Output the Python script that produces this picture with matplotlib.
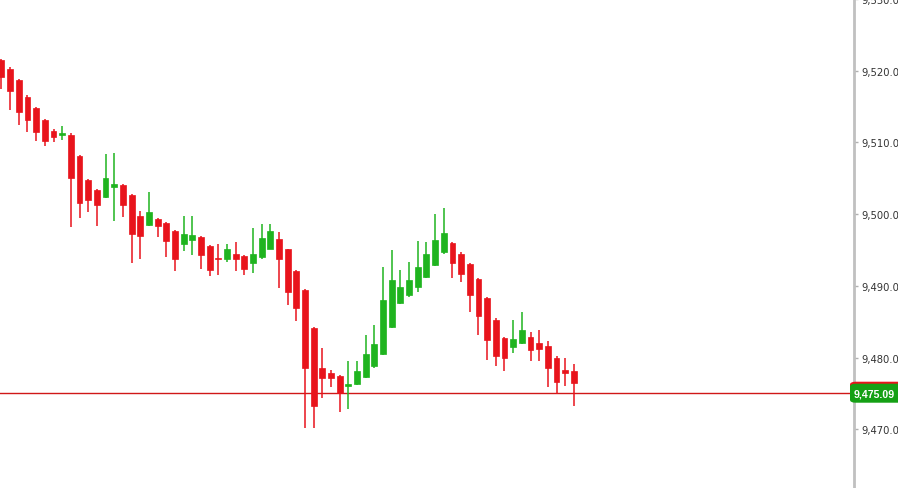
import numpy as np
import matplotlib
matplotlib.use("Agg")
import matplotlib.pyplot as plt
from matplotlib.patches import FancyBboxPatch
from matplotlib.ticker import FuncFormatter, MultipleLocator

# OHLC (oldest -> newest)
opens = [9521.5, 9520.2, 9518.7, 9516.4, 9514.8, 9513.1, 9511.6, 9511.0, 9511.1, 9508.1,
         9504.7, 9503.3, 9502.4, 9503.8, 9504.0, 9502.6, 9499.8, 9498.5, 9499.3, 9498.7,
         9497.6, 9495.8, 9496.4, 9496.8, 9495.5, 9493.8, 9493.7, 9494.4, 9494.1, 9493.2,
         9494.0, 9495.2, 9496.5, 9495.1, 9492.0, 9489.4, 9484.1, 9478.6, 9477.8, 9477.4,
         9476.0, 9476.3, 9477.3, 9478.8, 9480.5, 9484.2, 9487.6, 9488.7, 9489.8, 9491.2,
         9492.9, 9494.7, 9495.9, 9494.5, 9493.0, 9490.9, 9488.3, 9485.3, 9482.7, 9481.4,
         9482.0, 9482.8, 9482.0, 9481.6, 9480.0, 9478.2, 9478.1]
highs = [9521.7, 9520.5, 9518.8, 9516.6, 9514.9, 9513.2, 9511.8, 9512.3, 9511.3, 9508.2,
         9504.9, 9503.5, 9508.4, 9508.5, 9504.2, 9502.8, 9500.5, 9503.1, 9499.4, 9498.9,
         9497.8, 9499.8, 9499.8, 9496.9, 9495.7, 9495.8, 9495.8, 9496.1, 9494.3, 9498.0,
         9498.6, 9498.6, 9497.5, 9495.2, 9492.2, 9489.5, 9484.2, 9481.3, 9478.2, 9477.5,
         9479.5, 9479.5, 9483.1, 9484.5, 9492.6, 9495.0, 9492.2, 9493.3, 9496.2, 9496.1,
         9500.0, 9500.8, 9496.1, 9494.7, 9493.2, 9491.1, 9488.4, 9485.5, 9482.8, 9485.3,
         9486.3, 9483.5, 9483.8, 9482.3, 9480.2, 9480.0, 9479.1]
lows = [9517.4, 9514.5, 9512.4, 9511.4, 9510.2, 9509.5, 9510.0, 9510.4, 9498.2, 9499.4,
        9500.3, 9498.3, 9502.2, 9499.0, 9499.6, 9493.2, 9493.8, 9498.3, 9496.8, 9494.0,
        9492.0, 9494.8, 9494.3, 9492.3, 9491.3, 9491.5, 9493.3, 9492.0, 9491.5, 9491.8,
        9493.8, 9495.1, 9489.7, 9487.3, 9485.1, 9470.1, 9470.1, 9474.3, 9475.9, 9472.4,
        9472.8, 9476.1, 9477.1, 9478.6, 9480.3, 9484.1, 9487.4, 9488.5, 9489.2, 9491.1,
        9492.7, 9494.5, 9491.1, 9490.5, 9486.3, 9483.2, 9479.6, 9478.8, 9478.1, 9480.6,
        9481.9, 9479.5, 9479.5, 9475.9, 9474.9, 9476.0, 9473.2]
closes = [9519.1, 9517.1, 9514.2, 9513.1, 9511.4, 9510.2, 9510.7, 9511.3, 9505.1, 9501.5,
          9501.9, 9501.2, 9505.1, 9504.2, 9501.2, 9497.2, 9496.9, 9500.3, 9498.3, 9496.2,
          9493.8, 9497.2, 9497.1, 9494.3, 9492.2, 9493.7, 9495.1, 9493.8, 9492.3, 9494.5,
          9496.6, 9497.6, 9493.8, 9489.2, 9486.9, 9478.6, 9473.2, 9477.1, 9477.1, 9475.0,
          9476.3, 9478.1, 9480.5, 9481.9, 9488.0, 9490.8, 9489.9, 9490.8, 9492.6, 9494.4,
          9496.4, 9497.3, 9493.2, 9491.6, 9488.7, 9485.8, 9482.4, 9480.2, 9480.0, 9482.6,
          9483.8, 9481.0, 9481.2, 9478.5, 9476.6, 9477.8, 9476.4]
last_price = 9475.09

UP = "#1fb41f"
DOWN = "#e8141c"

o = np.array(opens)
h = np.array(highs)
l = np.array(lows)
c = np.array(closes)
x = np.arange(len(o))
colors = np.where(c >= o, UP, DOWN)

W, H = 898, 489
fig = plt.figure(figsize=(W / 100, H / 100), dpi=100)
ax = fig.add_axes([0, 0, 854 / W, 1])

# wicks and bodies
ax.vlines(x, l, h, colors=colors, linewidth=1.1, zorder=2)
body_bottom = np.minimum(o, c)
body_height = np.maximum(np.abs(c - o), 0.15)
ax.bar(x, body_height, bottom=body_bottom, width=0.68, color=colors,
       edgecolor=colors, linewidth=0.5, zorder=3)

# last price line
ax.axhline(last_price, color="#d01818", linewidth=1, zorder=1)

ax.set_xlim(-0.17, 98.3)
ax.set_ylim(9461.8, 9530.0)

for side in ["top", "left", "bottom"]:
    ax.spines[side].set_visible(False)
ax.spines["right"].set_color("#c0c0c0")
ax.spines["right"].set_linewidth(2)
ax.set_xticks([])
ax.yaxis.tick_right()
ax.yaxis.set_major_locator(MultipleLocator(10))
ax.yaxis.set_major_formatter(FuncFormatter(lambda v, p: f"{v:,.2f}"))
ax.tick_params(axis="y", direction="out", length=3, width=1, color="#b0b0b0",
               labelsize=7.2, labelcolor="#333333", pad=2)

# price tag on the axis (red edge peeking above the green box)
y_pix = ax.transData.transform((0, last_price))[1]
x0 = 850
red_tag = FancyBboxPatch((x0 / W, (y_pix - 8) / H), 60 / W, 19 / H,
                         boxstyle="round,pad=0,rounding_size=0.006",
                         transform=fig.transFigure, fc="#e8141c", ec="none", zorder=4)
green_tag = FancyBboxPatch((x0 / W, (y_pix - 10) / H), 60 / W, 19 / H,
                           boxstyle="round,pad=0,rounding_size=0.006",
                           transform=fig.transFigure, fc="#15a015", ec="none", zorder=5)
fig.patches.extend([red_tag, green_tag])
fig.text((x0 + 4) / W, (y_pix - 0.5) / H, f"{last_price:,.2f}", ha="left", va="center",
         fontsize=7.6, fontweight="bold", family="Liberation Sans", color="white", zorder=6)

fig.savefig("out.png", dpi=100)
